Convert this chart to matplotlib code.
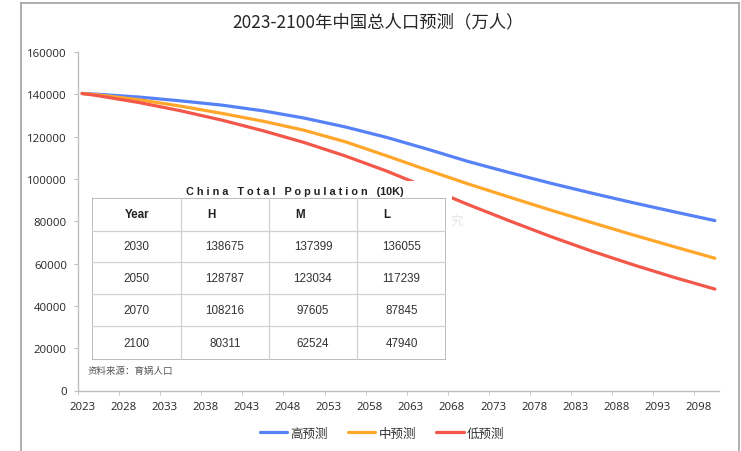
# %% Imports

import matplotlib
matplotlib.use('Agg')
import matplotlib.pyplot as plt
from matplotlib.lines import Line2D
from matplotlib.patches import Rectangle
from matplotlib.ticker import FixedLocator

plt.rcParams['font.family'] = ['Noto Sans CJK SC', 'DejaVu Sans']

# %% Data

years = [2023, 2025, 2030, 2035, 2040, 2045, 2050, 2055, 2060,
         2065, 2070, 2075, 2080, 2085, 2090, 2095, 2100]
high = [140400, 140000, 138675, 136900, 134900, 132200, 128787, 124600, 119700,
        114100, 108216, 103000, 98000, 93300, 88800, 84500, 80311]
mid = [140400, 139700, 137399, 134400, 131000, 127300, 123034, 117600, 111000,
       104200, 97605, 91400, 85300, 79400, 73600, 68000, 62524]
low = [140400, 139300, 136055, 132200, 127800, 122800, 117239, 110900, 103800,
       95900, 87845, 80200, 72800, 65900, 59500, 53500, 47940]

series_names = ['高预测', '中预测', '低预测']
series_colours = ['#5781f7', '#ffa62b', '#f2574a']

table_title = 'C h i n a   T o t a l   P o p u l a t i o n   (10K)'
table_header = ['Year', 'H', 'M', 'L']
table_years = [2030, 2050, 2070, 2100]
table_h = [138675, 128787, 108216, 80311]
table_m = [137399, 123034, 97605, 62524]
table_l = [136055, 117239, 87845, 47940]

# %% Figure setup (pixel helpers)

W, H = 741, 452
fig = plt.figure(figsize=(W / 100, H / 100), dpi=100)
fig.set_facecolor('white')


def fx(px):
    return px / W


def fy(py):
    return 1 - py / H


# Outer frame
frame_c = '#a8a8a8'
fig.add_artist(Line2D([fx(21), fx(21)], [fy(4), fy(452)], color=frame_c, lw=1.3))
fig.add_artist(Line2D([fx(21), fx(739)], [fy(4), fy(4)], color=frame_c, lw=1.3))
fig.add_artist(Line2D([fx(739), fx(739)], [fy(4), fy(452)], color=frame_c, lw=1.3))

# %% Main chart

ax = fig.add_axes([fx(78), fy(391.5), fx(719) - fx(78), fy(53) - fy(391.5)])
for name, vals, c in zip(series_names, [high, mid, low], series_colours):
    ax.plot(years, vals, color=c, lw=2.3, label=name, solid_capstyle='round')

ax.set_xlim(2022.5, 2100.5)
ax.set_ylim(0, 160000)
ax.set_yticks(range(0, 160001, 20000))
ax.set_xticks(range(2023, 2100, 5))
ax.xaxis.set_minor_locator(FixedLocator([y - 0.5 for y in range(2023, 2100, 5)]))
ax.tick_params(axis='x', which='major', length=0, pad=7.5, labelsize=8.2, labelcolor='#262626')
ax.tick_params(axis='x', which='minor', length=3, color='#bfbfbf', direction='out')
ax.tick_params(axis='y', length=3, color='#bfbfbf', pad=5, labelsize=8.2, labelcolor='#262626')
for lab in ax.get_xticklabels() + ax.get_yticklabels():
    lab.set_family(['Open Sans', 'DejaVu Sans'])

for side in ['top', 'right']:
    ax.spines[side].set_visible(False)
for side in ['left', 'bottom']:
    ax.spines[side].set_color('#bfbfbf')
    ax.spines[side].set_linewidth(1)

fig.text(fx(378), fy(22), '2023-2100年中国总人口预测（万人）', ha='center', va='center',
         fontsize=12.5, color='#262626')

# Legend
fig.legend(loc='center', bbox_to_anchor=(fx(382), fy(434)), ncol=3, frameon=False,
           fontsize=9, handlelength=2.2, handletextpad=0.25, columnspacing=1.6,
           labelcolor='#333333')

# %% Inset table

# white box covering the lines behind the table
fig.add_artist(Rectangle((fx(84), fy(380)), fx(452) - fx(84), fy(182) - fy(380),
                         transform=fig.transFigure, facecolor='white', edgecolor='none', zorder=2))

# faint watermark remnant
fig.text(fx(457), fy(221), '究', ha='center', va='center', fontsize=9, color='#e6e6e6', zorder=3)

tab = fig.add_axes([fx(92), fy(361), fx(446) - fx(92), fy(199) - fy(361)], zorder=3)
tab.set_xlim(92, 446)
tab.set_ylim(361, 199)
tab.set_axis_off()

col_edges = [92, 181, 269, 357, 446]
row_edges = [199, 232, 263, 295, 327, 361]

for x in col_edges[1:-1]:
    tab.plot([x, x], [row_edges[0], row_edges[-1]], color='#d0d0d0', lw=0.9)
for y in row_edges[1:-1]:
    tab.plot([col_edges[0], col_edges[-1]], [y, y], color='#d0d0d0', lw=0.9)
tab.add_patch(Rectangle((92, 199), 446 - 92, 361 - 199, facecolor='none',
                        edgecolor='#b0b0b0', lw=1.2))

cell_font = ['Liberation Sans', 'DejaVu Sans']
header_x = [137, 211, 300, 387]
for hx, txt in zip(header_x, table_header):
    tab.text(hx, (row_edges[0] + row_edges[1]) / 2, txt, ha='center', va='center',
             fontsize=8.4, fontweight='bold', color='#222222', family=cell_font)

rows = list(zip(table_years, table_h, table_m, table_l))
for r, row in enumerate(rows):
    yc = (row_edges[r + 1] + row_edges[r + 2]) / 2
    for c, val in enumerate(row):
        xc = (col_edges[c] + col_edges[c + 1]) / 2
        tab.text(xc, yc, str(val), ha='center', va='center', fontsize=8.4,
                 color='#333333', family=cell_font)

fig.text(fx(295), fy(192), table_title, ha='center', va='center', fontsize=7.8,
         fontweight='bold', color='#222222', family=cell_font, zorder=4)
fig.text(fx(87), fy(371), '资料来源：育娲人口', ha='left', va='center', fontsize=6.8,
         color='#555555', zorder=4)

plt.savefig('out.png', dpi=100)
